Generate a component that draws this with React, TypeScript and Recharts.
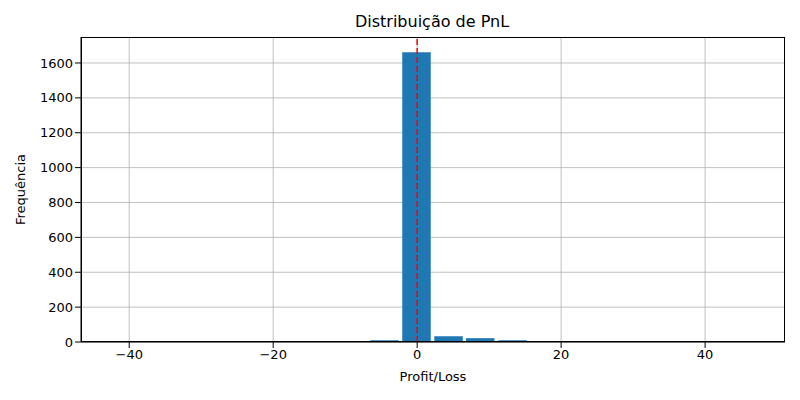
import React from "react";
import { ComposedChart, Bar, XAxis, YAxis, CartesianGrid, ReferenceLine, Label } from "recharts";

const binCenters = [-35.7, -31.2, -26.8, -22.3, -17.9, -13.5, -9.0, -4.6, -0.15, 4.3, 8.7, 13.2, 17.6, 22.0, 26.5, 30.9, 35.4, 39.8];
const counts = [3, 0, 0, 0, 0, 2, 2, 10, 1662, 33, 22, 10, 3, 2, 2, 2, 2, 2];
const xTicks = [-40, -20, 0, 20, 40];
const yTicks = [0, 200, 400, 600, 800, 1000, 1200, 1400, 1600];

const data = binCenters.map((x, i) => ({ x, count: counts[i] }));
const font = "DejaVu Sans, sans-serif";

export default function App() {
  return (
    <div style={{ position: "absolute", left: 0, top: 0, width: 800, height: 400, background: "#fff", fontFamily: font }}>
      <div style={{ position: "absolute", top: 12, width: 800, left: 32, textAlign: "center", fontSize: 16, color: "#000" }}>
        Distribuição de PnL
      </div>
      <ComposedChart width={800} height={400} data={data} margin={{ top: 37, right: 15, left: 0, bottom: 28 }}>
        <CartesianGrid stroke="#b0b0b0" strokeWidth={0.8} horizontalValues={yTicks} verticalValues={xTicks} />
        <XAxis
          dataKey="x"
          type="number"
          domain={[-46.7, 51.1]}
          ticks={xTicks}
          tickFormatter={(v) => (v < 0 ? "\u2212" + Math.abs(v) : String(v))}
          tick={{ fill: "#000", fontSize: 13, fontFamily: font }}
          axisLine={{ stroke: "#000" }}
          tickLine={{ stroke: "#000" }}
          height={30}
        >
          <Label value="Profit/Loss" position="bottom" offset={0} style={{ fill: "#000", fontSize: 13, fontFamily: font }} />
        </XAxis>
        <YAxis
          type="number"
          domain={[0, 1749]}
          ticks={yTicks}
          tick={{ fill: "#000", fontSize: 13, fontFamily: font }}
          axisLine={{ stroke: "#000" }}
          tickLine={{ stroke: "#000" }}
          width={81}
        >
          <Label value="Frequência" angle={-90} position="insideLeft" offset={20} style={{ fill: "#000", fontSize: 13, fontFamily: font, textAnchor: "middle" }} />
        </YAxis>
        <Bar dataKey="count" fill="#1f77b4" barSize={33} isAnimationActive={false} />
        <ReferenceLine x={0} stroke="#ff0000" strokeDasharray="6 3" strokeWidth={1.5} ifOverflow="extendDomain" />
      </ComposedChart>
      <div style={{ position: "absolute", left: 81, top: 37, width: 704, height: 305, border: "1px solid #000", boxSizing: "border-box", pointerEvents: "none" }} />
    </div>
  );
}
